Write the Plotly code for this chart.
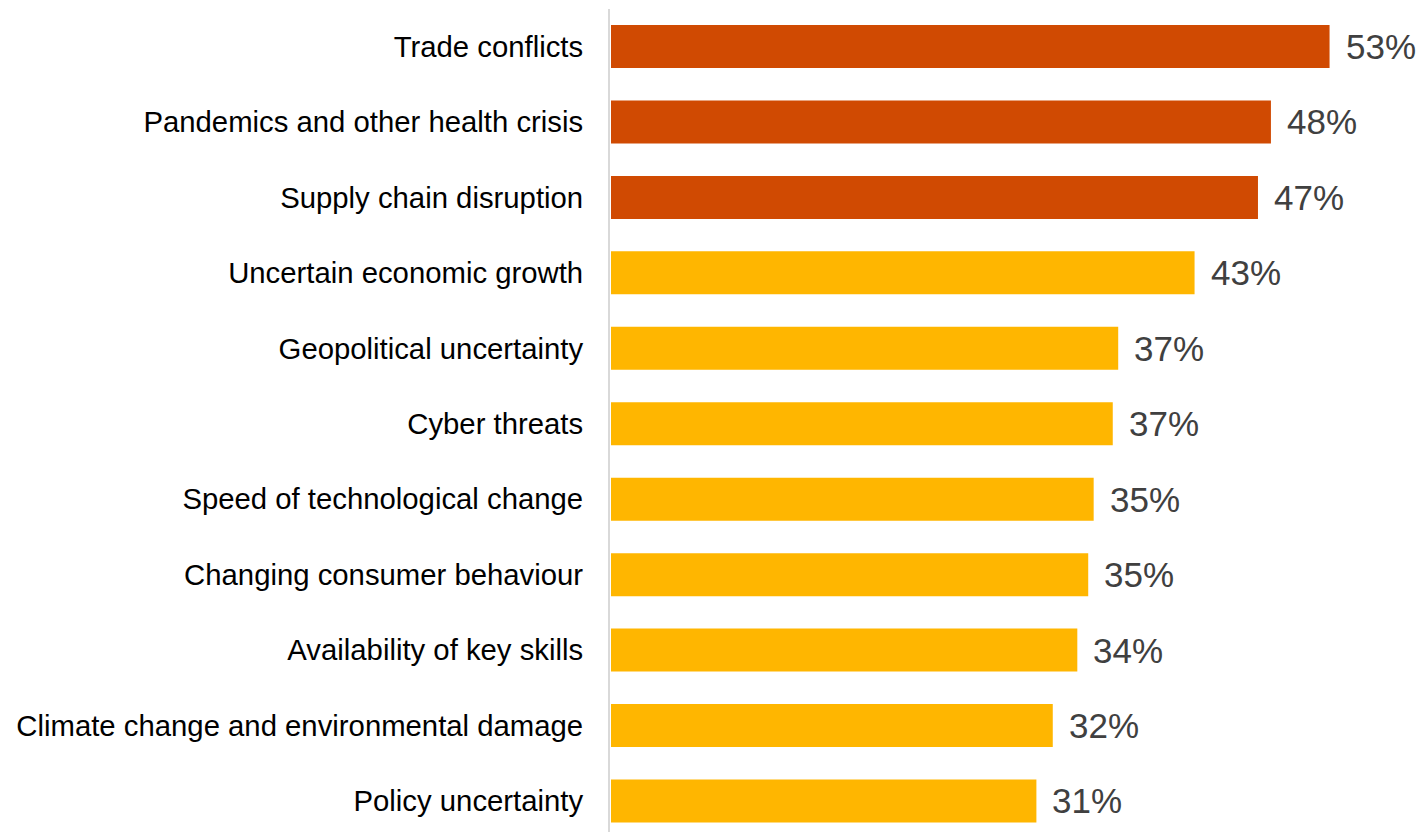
import plotly.graph_objects as go

# Share of respondents citing each threat (listed top to bottom)
categories = [
    "Trade conflicts",
    "Pandemics and other health crisis",
    "Supply chain disruption",
    "Uncertain economic growth",
    "Geopolitical uncertainty",
    "Cyber threats",
    "Speed of technological change",
    "Changing consumer behaviour",
    "Availability of key skills",
    "Climate change and environmental damage",
    "Policy uncertainty",
]
values = [52.7, 48.4, 47.45, 42.8, 37.2, 36.8, 35.4, 35.0, 34.2, 32.4, 31.2]

# Styling
TOP_N = 3
ORANGE = "#D04A02"
YELLOW = "#FFB600"
FONT = "Liberation Sans, Arial, sans-serif"

bar_colors = [ORANGE if i < TOP_N else YELLOW for i in range(len(values))]

fig = go.Figure(
    go.Bar(
        x=values,
        y=categories,
        orientation="h",
        marker=dict(color=bar_colors, line=dict(width=0)),
        width=0.57,
        hoverinfo="skip",
    )
)

# Percentage labels placed just past each bar end
for cat, v in zip(categories, values):
    fig.add_annotation(
        x=v,
        y=cat,
        text=f"{v:.0f}%",
        showarrow=False,
        xanchor="left",
        yanchor="middle",
        xshift=14,
        font=dict(family=FONT, size=35, color="#404040"),
    )

fig.update_layout(
    width=1425,
    height=832,
    margin=dict(l=610, r=0, t=9, b=0),
    paper_bgcolor="white",
    plot_bgcolor="white",
    showlegend=False,
    font=dict(family=FONT),
)

fig.update_xaxes(
    range=[-0.073, 59.70],
    visible=False,
    showgrid=False,
    zeroline=False,
)

fig.update_yaxes(
    type="category",
    range=[10.411, -0.497],
    showline=True,
    linecolor="#D9D9D9",
    linewidth=2,
    showgrid=False,
    zeroline=False,
    ticks="",
    ticklabelstandoff=19,
    tickfont=dict(family=FONT, size=29.3, color="#000000"),
)

fig.write_html("out.html")
